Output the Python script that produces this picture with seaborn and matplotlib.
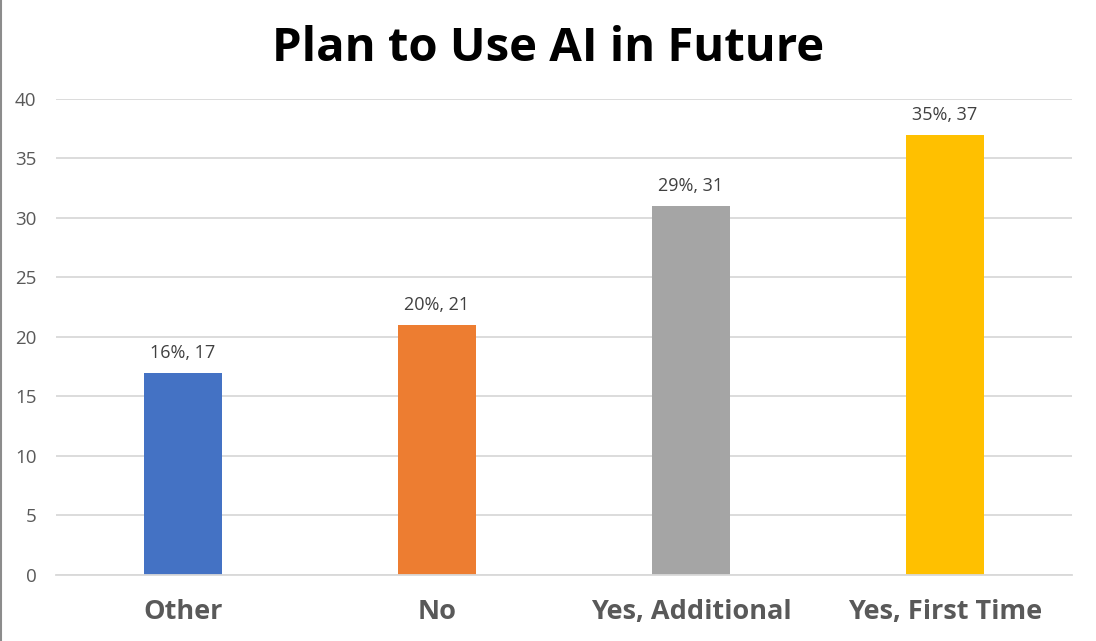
import matplotlib
matplotlib.use("Agg")
import matplotlib.pyplot as plt
import seaborn as sns
import pandas as pd
from matplotlib.lines import Line2D

# Survey responses: planned future AI use
categories = ["Other", "No", "Yes, Additional", "Yes, First Time"]
counts = [17, 21, 31, 37]
percents = ["16%", "20%", "29%", "35%"]
colors = ["#4472C4", "#ED7D31", "#A5A5A5", "#FFC000"]
y_ticks = [0, 5, 10, 15, 20, 25, 30, 35, 40]

df = pd.DataFrame({"category": categories, "count": counts})

sns.set_theme(style="white")
plt.rcParams["font.family"] = ["Open Sans", "DejaVu Sans"]

fig = plt.figure(figsize=(10.96, 6.41), dpi=100)
ax = fig.add_axes([0.0511, 0.1030, 0.9270, 0.7426])

sns.barplot(data=df, x="category", y="count", hue="category",
            palette=colors, width=0.31, legend=False, ax=ax,
            saturation=1, linewidth=0)

ax.set_ylim(0, 40)
ax.set_yticks(y_ticks)
ax.set_xlim(-0.5, len(categories) - 0.5)
ax.yaxis.grid(True, color="#D9D9D9", linewidth=1.3)
ax.set_axisbelow(True)
for side in ["top", "right", "left"]:
    ax.spines[side].set_visible(False)
ax.spines["bottom"].set_color("#D9D9D9")
ax.spines["bottom"].set_linewidth(1.3)

ax.set_xlabel("")
ax.set_ylabel("")
ax.tick_params(axis="y", length=0, pad=14, labelsize=13.5, labelcolor="#595959")
ax.tick_params(axis="x", length=0, pad=17, labelsize=19.5, labelcolor="#595959")
for lbl in ax.get_xticklabels():
    lbl.set_fontweight("bold")

for i, (c, p) in enumerate(zip(counts, percents)):
    ax.annotate(f"{p}, {c}", xy=(i, c), xytext=(0, 8), textcoords="offset points",
                ha="center", va="bottom", fontsize=13, color="#404040")

fig.text(0.5, 0.925, "Plan to Use AI in Future", ha="center", va="center",
         fontsize=34, fontweight="bold", color="black")

# thin frame line on the left edge
fig.add_artist(Line2D([0.001, 0.001], [0, 1], transform=fig.transFigure,
                      color="#8C8C8C", linewidth=1.5))

fig.savefig("out.png", dpi=100)
